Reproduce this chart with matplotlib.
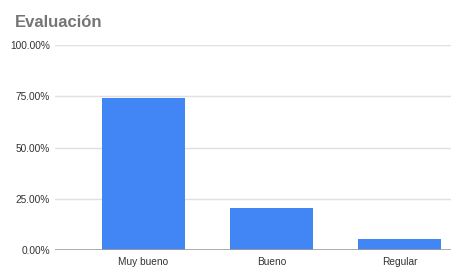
import numpy as np
import matplotlib.pyplot as plt
from matplotlib.ticker import PercentFormatter

categories = ["Muy bueno", "Bueno", "Regular"]
values = [0.7436, 0.2051, 0.0513]
yticks = [0, 0.25, 0.5, 0.75, 1.0]

plt.rcParams["font.family"] = ["Liberation Sans", "DejaVu Sans"]

fig = plt.figure(figsize=(4.51, 2.71), dpi=100)
ax = fig.add_axes([55 / 451, 1 - 250 / 271, 1 - 55 / 451, 205 / 271])

x = np.arange(len(categories))
ax.bar(x, values, width=0.65, color="#4285f4", zorder=3)

ax.set_xlim(-0.69, 2.40)
ax.set_ylim(0, 1.0)
ax.set_yticks(yticks)
ax.yaxis.set_major_formatter(PercentFormatter(1.0, decimals=2))
ax.set_xticks(x)
ax.set_xticklabels(categories)

ax.grid(axis="y", color="#e0e0e0", linewidth=1, zorder=0)
ax.axhline(0, color="#9e9e9e", linewidth=1.2, zorder=4)
for s in ax.spines.values():
    s.set_visible(False)
ax.tick_params(axis="both", length=0, labelsize=7.3, labelcolor="#333333")
ax.tick_params(axis="y", pad=3.5)
ax.tick_params(axis="x", pad=5)

fig.text(15 / 451, 1 - 27 / 271, "Evaluación", fontsize=12, fontweight="bold",
         color="#757575", ha="left", va="baseline")

fig.savefig("out.png", dpi=100)
